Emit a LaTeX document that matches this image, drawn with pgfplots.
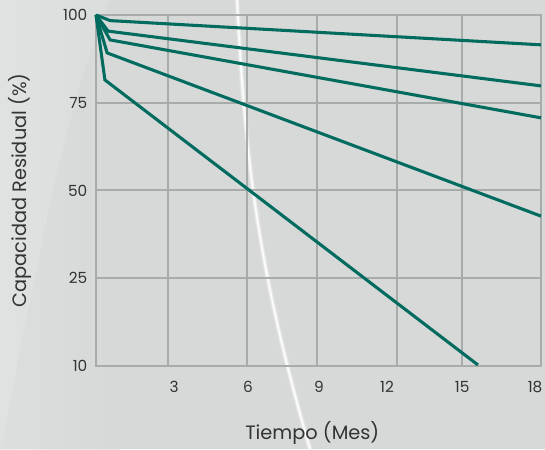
\documentclass[border=0pt]{standalone}
\usepackage{fontspec}
\setmainfont{Poppins}
\usepackage{pgfplots}
\pgfplotsset{compat=1.18}
\usetikzlibrary{backgrounds,calc}
\definecolor{teal1}{HTML}{006B5E}
\definecolor{gridc}{HTML}{A7ABAA}
\definecolor{bg}{HTML}{D6D9D8}
\definecolor{bgl}{HTML}{E1E3E3}
\definecolor{txt}{HTML}{333333}
\begin{document}
\begin{tikzpicture}
\begin{axis}[
  scale only axis, width=333.75pt, height=263.25pt,
  xmin=0, xmax=18, ymin=0, ymax=100,
  xtick={3.16,6.15,9.02,11.77,14.81,17.76},
  xticklabels={3,6,9,12,15,18},
  extra x ticks={2.91,6.11,8.94,12.18,14.81},
  extra x tick labels={},
  extra x tick style={xmajorgrids=true, major grid style={gridc, line width=1.5pt}},
  ytick={0,25,50,75,100}, yticklabels={10,25,50,75,100},
  xmajorgrids=false, ymajorgrids=true,
  major grid style={gridc, line width=1.5pt},
  axis line style={gridc, line width=1.8pt},
  tick style={draw=none},
  /pgf/number format/assume math mode=true,
  ticklabel style={font=\fontsize{11.5}{13}\selectfont, text=txt},
  xticklabel style={yshift=-8pt},
  yticklabel style={xshift=-3pt},
  xlabel={Tiempo (Mes)},
  ylabel={Capacidad Residual (\%)},
  label style={font=\fontsize{14.5}{16}\selectfont, text=txt},
  xlabel style={at={(rel axis cs:0.486,-0.191)}, anchor=center},
  ylabel style={at={(rel axis cs:-0.171,0.5)}, anchor=center, rotate=0},
  clip=false,
]
\coordinate (LL) at (rel axis cs:0,0);
\addplot[teal1, line width=2.3pt] coordinates {(0,100) (0.57,98.4) (18,91.5)};
\addplot[teal1, line width=2.3pt] coordinates {(0,100) (0.49,95.4) (18,79.8)};
\addplot[teal1, line width=2.3pt] coordinates {(0,100) (0.57,92.9) (18,70.7)};
\addplot[teal1, line width=2.3pt] coordinates {(0,100) (0.45,89.2) (18,42.7)};
\addplot[teal1, line width=2.3pt] coordinates {(0,100) (0.36,81.5) (15.45,0.3)};
\end{axis}
\begin{pgfonlayer}{background}
\coordinate (TL) at ($(LL)+(-72pt,274.5pt)$);
\begin{scope}[shift={(TL)}, x=0.75pt, y=-0.75pt]
  \fill[bg] (0,0) rectangle (545,449);
  \shade[left color=bgl, right color=bg, opacity=0.6] (0,0) rectangle (120,449);
  \fill[white, opacity=0.12] (0,0) -- (110,0) .. controls (60,120) and (40,260) .. (0,449) -- cycle;
  \draw[white, line width=4pt, opacity=0.2] (237,0) .. controls (245,150) and (255,260) .. (310,449);
  \draw[white, line width=2.5pt, opacity=0.4] (237,0) .. controls (245,150) and (255,260) .. (310,449);
  \draw[white, line width=1.2pt, opacity=0.85] (237,0) .. controls (245,150) and (255,260) .. (310,449);
\end{scope}
\end{pgfonlayer}
\pgfresetboundingbox
\begin{scope}[shift={(TL)}, x=0.75pt, y=-0.75pt]
  \path[use as bounding box] (0,0) rectangle (545,449);
\end{scope}
\end{tikzpicture}
\end{document}
